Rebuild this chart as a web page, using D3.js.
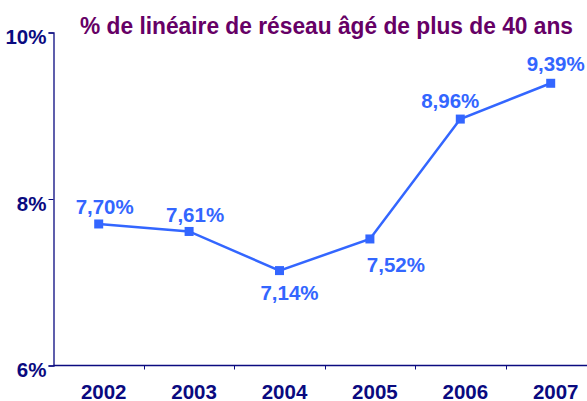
<!DOCTYPE html>
<html>
<head>
    <script type="text/javascript" src="https://d3js.org/d3.v7.min.js"></script>
    <style>
        body { margin: 0; background: #fff; }
        svg { display: block; font-family: "Liberation Sans", Arial, sans-serif; font-weight: bold; }
    </style>
</head>
<body>
    <svg></svg>
    <script>
        // data
        const years = ["2002", "2003", "2004", "2005", "2006", "2007"];
        const values = [7.70, 7.61, 7.14, 7.52, 8.96, 9.39];
        const yTicks = [6, 8, 10];
        const title = "% de linéaire de réseau âgé de plus de 40 ans";

        // label placement (dx, dy) relative to each point
        const labelOffsets = [[6, -10], [6, -9], [10, 29], [26, 33], [-10, -11], [5, -12]];

        const width = 587, height = 401;
        const svg = d3.select("svg").attr("width", width).attr("height", height);

        const navy = "#0a0a80", blue = "#3366ff", purple = "#660066";

        const x = d3.scaleBand().domain(years).range([53.5, 53.5 + 6 * 90.4]);
        const y = d3.scaleLinear().domain([6, 10]).range([365.5, 32.5]);

        const fmt = v => v.toFixed(2).replace(".", ",") + "%";

        // title
        svg.append("text")
            .attr("x", 80).attr("y", 34)
            .attr("fill", purple)
            .attr("font-size", 23)
            .attr("textLength", 493)
            .attr("lengthAdjust", "spacingAndGlyphs")
            .text(title);

        // y axis
        const yAxis = svg.append("g")
            .attr("transform", "translate(53.5,0)")
            .call(d3.axisLeft(y).tickValues(yTicks).tickSize(5).tickPadding(2).tickFormat(d => d + "%"));
        yAxis.select(".domain").attr("stroke", navy).attr("stroke-width", 1.3);
        yAxis.selectAll(".tick line").attr("stroke", navy);
        yAxis.selectAll(".tick text")
            .attr("fill", navy).attr("font-size", 20.5)
            .attr("font-family", "Liberation Sans, Arial, sans-serif").attr("font-weight", "bold")
            .attr("dy", "0.55em");

        // x axis
        const xAxisG = svg.append("g").attr("transform", "translate(0,365.5)");
        xAxisG.append("line")
            .attr("x1", 53.5).attr("x2", width)
            .attr("stroke", navy).attr("stroke-width", 1.3);
        xAxisG.selectAll("line.tick")
            .data(years.slice(1))
            .enter().append("line")
            .attr("class", "tick")
            .attr("x1", d => Math.round(x(d)) + 0.5).attr("x2", d => Math.round(x(d)) + 0.5)
            .attr("y1", 0).attr("y2", 4)
            .attr("stroke", navy);
        xAxisG.selectAll("text")
            .data(years)
            .enter().append("text")
            .attr("x", d => x(d) + x.bandwidth() / 2 + 5)
            .attr("y", 33)
            .attr("text-anchor", "middle")
            .attr("fill", navy)
            .attr("font-size", 20.5)
            .text(d => d);

        // line
        const px = (d, i) => x(years[i]) + x.bandwidth() / 2;
        const line = d3.line().x(px).y(d => y(d));
        svg.append("path")
            .datum(values)
            .attr("d", line)
            .attr("fill", "none")
            .attr("stroke", blue)
            .attr("stroke-width", 2.5);

        svg.selectAll("rect.marker")
            .data(values)
            .enter().append("rect")
            .attr("class", "marker")
            .attr("x", (d, i) => px(d, i) - 4.5)
            .attr("y", d => y(d) - 4.5)
            .attr("width", 9).attr("height", 9)
            .attr("fill", blue);

        svg.selectAll("text.label")
            .data(values)
            .enter().append("text")
            .attr("class", "label")
            .attr("x", (d, i) => px(d, i) + labelOffsets[i][0])
            .attr("y", (d, i) => y(d) + labelOffsets[i][1])
            .attr("text-anchor", "middle")
            .attr("fill", blue)
            .attr("font-size", 20.5)
            .text(fmt);
    </script>
</body>
</html>
